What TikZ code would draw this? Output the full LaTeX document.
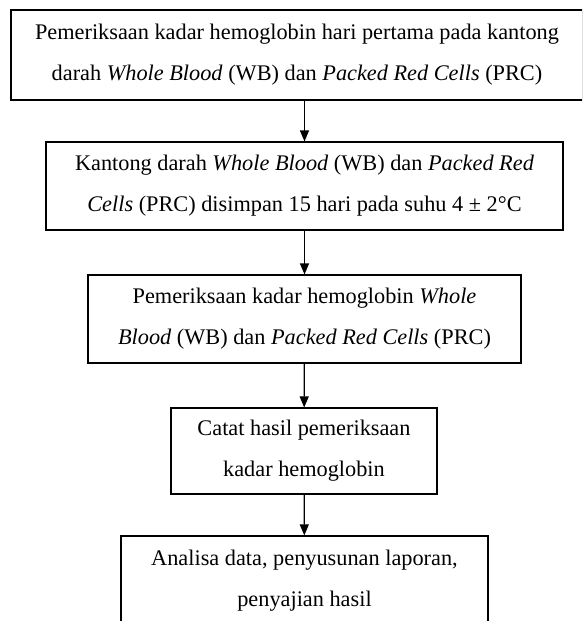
\documentclass[tikz,border=0pt]{standalone}
\usepackage{fontspec}
\setmainfont{Liberation Serif}
\usepackage{tikz}
\usetikzlibrary{arrows.meta}

\begin{document}
\begin{tikzpicture}[x=1pt, y=-1pt,
        box/.style={draw, line width=1.2pt, align=center, inner sep=0pt,
            font=\fontsize{22.3}{41}\selectfont},
        flow/.style={line width=1.2pt, arrows={-Triangle[length=11pt, width=9pt]}}]
        % frame
        \useasboundingbox (0,0) rectangle (582,621);
        \clip (0,0) rectangle (582,621);
        % boxes
        \node[box, minimum width=572pt, minimum height=90pt] (hari1) at (297,55)
            {Pemeriksaan kadar hemoglobin hari pertama pada kantong\\
             darah \textit{Whole Blood} (WB) dan \textit{Packed Red Cells} (PRC)};
        \node[box, minimum width=517pt, minimum height=88pt] (simpan) at (304.5,186)
            {Kantong darah \textit{Whole Blood} (WB) dan \textit{Packed Red}\\
             \textit{Cells} (PRC) disimpan 15 hari pada suhu 4 ± 2°C};
        \node[box, minimum width=433pt, minimum height=88pt] (periksa) at (304.5,319)
            {Pemeriksaan kadar hemoglobin \textit{Whole}\\
             \textit{Blood} (WB) dan \textit{Packed Red Cells} (PRC)};
        \node[box, minimum width=266pt, minimum height=86pt] (catat) at (304,451)
            {Catat hasil pemeriksaan\\ kadar hemoglobin};
        \node[box, minimum width=367pt, minimum height=90pt] (analisa) at (304.5,581)
            {Analisa data, penyusunan laporan,\\ penyajian hasil};
        % arrows
        \draw[flow] (hari1.south -| simpan.north) -- (simpan.north);
        \draw[flow] (simpan) -- (periksa);
        \draw[flow] (periksa) -- (catat);
        \draw[flow] (catat) -- (analisa);
    \end{tikzpicture}
\end{document}
